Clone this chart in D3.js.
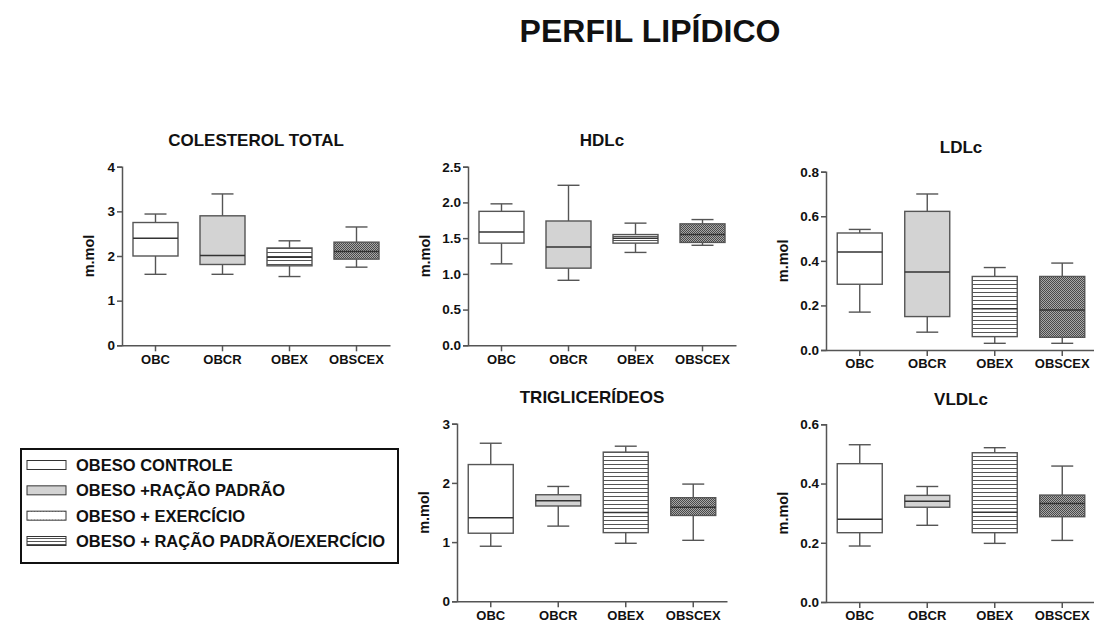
<!DOCTYPE html>
<html>
<head>
<meta charset="utf-8">
<script src="https://cdn.jsdelivr.net/npm/d3@7"></script>
<style>
  body { margin: 0; background: #fff; }
  svg { display: block; font-family: "Liberation Sans", Arial, sans-serif; }
</style>
</head>
<body>
<svg id="chart" width="1094" height="624"></svg>
<script>
// groups on the x axis
const categories = ['OBC', 'OBCR', 'OBEX', 'OBSCEX'];

// box values per group: [min, q1, median, q3, max]
const colesterolTotal = [
  [1.59, 2.00, 2.40, 2.75, 2.94],
  [1.59, 1.81, 2.01, 2.90, 3.39],
  [1.54, 1.78, 1.97, 2.18, 2.34],
  [1.75, 1.93, 2.10, 2.31, 2.65]
];
const hdlc = [
  [1.14, 1.43, 1.586, 1.875, 1.98],
  [0.91, 1.08, 1.376, 1.74, 2.24],
  [1.30, 1.43, 1.50, 1.55, 1.71],
  [1.40, 1.44, 1.55, 1.70, 1.76]
];
const ldlc = [
  [0.17, 0.295, 0.44, 0.525, 0.541],
  [0.08, 0.15, 0.35, 0.622, 0.70],
  [0.03, 0.06, 0.185, 0.33, 0.37],
  [0.03, 0.057, 0.18, 0.33, 0.39]
];
const triglicerideos = [
  [0.93, 1.15, 1.41, 2.31, 2.67],
  [1.27, 1.61, 1.70, 1.80, 1.94],
  [0.98, 1.16, 1.50, 2.52, 2.62],
  [1.03, 1.45, 1.59, 1.75, 1.98]
];
const vldlc = [
  [0.189, 0.234, 0.279, 0.467, 0.531],
  [0.259, 0.32, 0.34, 0.36, 0.39],
  [0.198, 0.234, 0.303, 0.504, 0.521],
  [0.208, 0.288, 0.333, 0.361, 0.459]
];

// y tick values
const ticksColesterol = [0, 1, 2, 3, 4];
const ticksHdl = [0, 0.5, 1.0, 1.5, 2.0, 2.5];
const ticksLdl = [0, 0.2, 0.4, 0.6, 0.8];
const ticksTrig = [0, 1, 2, 3];
const ticksVldl = [0, 0.2, 0.4, 0.6];

const legendLabels = [
  'OBESO CONTROLE',
  'OBESO +RAÇÃO PADRÃO',
  'OBESO + EXERCÍCIO',
  'OBESO + RAÇÃO PADRÃO/EXERCÍCIO'
];

const mainTitle = 'PERFIL LIPÍDICO';
const yLabel = 'm.mol';

const svg = d3.select('#chart');
const stroke = '#555';

// fill patterns
const defs = svg.append('defs');

const hatch = defs.append('pattern')
  .attr('id', 'hatch').attr('patternUnits', 'userSpaceOnUse')
  .attr('width', 4).attr('height', 4);
hatch.append('rect').attr('width', 4).attr('height', 4).attr('fill', '#fff');
hatch.append('path').attr('d', 'M0,0.5H4').attr('stroke', '#555').attr('stroke-width', 1);

const checker = defs.append('pattern')
  .attr('id', 'checker').attr('patternUnits', 'userSpaceOnUse')
  .attr('width', 2).attr('height', 2);
checker.append('rect').attr('width', 2).attr('height', 2).attr('fill', '#a8a8a8');
checker.append('rect').attr('width', 1).attr('height', 1).attr('fill', '#4a4a4a');
checker.append('rect').attr('x', 1).attr('y', 1).attr('width', 1).attr('height', 1).attr('fill', '#4a4a4a');

const dots = defs.append('pattern')
  .attr('id', 'dots').attr('patternUnits', 'userSpaceOnUse')
  .attr('width', 3).attr('height', 9);
dots.append('rect').attr('width', 3).attr('height', 9).attr('fill', '#fff');
dots.append('rect').attr('x', 1).attr('y', 4).attr('width', 1).attr('height', 1).attr('fill', '#777');

const lines3 = defs.append('pattern')
  .attr('id', 'lines3').attr('patternUnits', 'userSpaceOnUse')
  .attr('width', 4).attr('height', 3);
lines3.append('rect').attr('width', 4).attr('height', 3).attr('fill', '#fff');
lines3.append('path').attr('d', 'M0,0.5H4').attr('stroke', '#555').attr('stroke-width', 1);

const boxFills = ['#fff', '#d3d3d3', 'url(#hatch)', 'url(#checker)'];
const legendFills = ['#fff', '#d3d3d3', 'url(#dots)', 'url(#lines3)'];

// title
svg.append('text')
  .attr('x', 650).attr('y', 42)
  .attr('text-anchor', 'middle')
  .attr('font-size', 32).attr('font-weight', 'bold')
  .attr('fill', '#111')
  .text(mainTitle);

const panels = [
  { title: 'COLESTEROL TOTAL', data: colesterolTotal, ticks: ticksColesterol, fmt: d3.format('d'),
    left: 122, top: 166.7, bottom: 345.3, width: 268, titleY: 146 },
  { title: 'HDLc', data: hdlc, ticks: ticksHdl, fmt: d3.format('.1f'),
    left: 468, top: 166.7, bottom: 345.3, width: 268, titleY: 146 },
  { title: 'LDLc', data: ldlc, ticks: ticksLdl, fmt: d3.format('.1f'),
    left: 826, top: 171.7, bottom: 350, width: 270, titleY: 153 },
  { title: 'TRIGLICERÍDEOS', data: triglicerideos, ticks: ticksTrig, fmt: d3.format('d'),
    left: 457, top: 423.7, bottom: 601.3, width: 270, titleY: 403 },
  { title: 'VLDLc', data: vldlc, ticks: ticksVldl, fmt: d3.format('.1f'),
    left: 826, top: 424.3, bottom: 602, width: 270, titleY: 405 }
];

const boxWidth = 45;
const capWidth = 22;

panels.forEach(p => {
  const x = d3.scaleBand().domain(categories).range([p.left, p.left + p.width]);
  const y = d3.scaleLinear()
    .domain(d3.extent(p.ticks))
    .range([p.bottom, p.top]);

  const g = svg.append('g');

  // y axis
  const yAxis = g.append('g')
    .attr('transform', `translate(${p.left},0)`)
    .call(d3.axisLeft(y).tickValues(p.ticks).tickFormat(p.fmt).tickSize(5).tickPadding(2));
  yAxis.select('.domain').attr('stroke', stroke).attr('stroke-width', 1.5);
  yAxis.selectAll('.tick line').attr('stroke', stroke).attr('stroke-width', 1.5);
  yAxis.selectAll('.tick text')
    .attr('font-size', 13.5).attr('font-weight', 'bold').attr('fill', '#111')
    .attr('font-family', '"Liberation Sans", Arial, sans-serif');

  // x axis
  const xAxis = g.append('g')
    .attr('transform', `translate(0,${p.bottom})`)
    .call(d3.axisBottom(x).tickSize(6).tickSizeOuter(0).tickPadding(3));
  xAxis.select('.domain').attr('stroke', stroke).attr('stroke-width', 1.5);
  xAxis.selectAll('.tick line').attr('stroke', stroke).attr('stroke-width', 1.5);
  xAxis.selectAll('.tick text')
    .attr('font-size', 13).attr('font-weight', 'bold').attr('fill', '#111')
    .attr('font-family', '"Liberation Sans", Arial, sans-serif');

  // panel title
  g.append('text')
    .attr('x', p.left + p.width / 2).attr('y', p.titleY)
    .attr('text-anchor', 'middle')
    .attr('font-size', 17).attr('font-weight', 'bold').attr('fill', '#111')
    .text(p.title);

  // y label
  const labelOff = p.fmt(p.ticks[1]).length > 1 ? 38 : 28;
  g.append('text')
    .attr('transform', `translate(${p.left - labelOff},${(p.top + p.bottom) / 2}) rotate(-90)`)
    .attr('text-anchor', 'middle')
    .attr('font-size', 14.5).attr('font-weight', 'bold').attr('fill', '#111')
    .text(yLabel);

  // boxes
  const boxes = g.selectAll('.box').data(p.data).join('g').attr('class', 'box');
  boxes.each(function (d, i) {
    const cx = x(categories[i]) + x.bandwidth() / 2;
    const b = d3.select(this);
    const [mn, q1, md, q3, mx] = d;
    b.append('line').attr('x1', cx).attr('x2', cx).attr('y1', y(mx)).attr('y2', y(q3))
      .attr('stroke', stroke).attr('stroke-width', 1.4);
    b.append('line').attr('x1', cx).attr('x2', cx).attr('y1', y(q1)).attr('y2', y(mn))
      .attr('stroke', stroke).attr('stroke-width', 1.4);
    b.append('line').attr('x1', cx - capWidth / 2).attr('x2', cx + capWidth / 2).attr('y1', y(mx)).attr('y2', y(mx))
      .attr('stroke', stroke).attr('stroke-width', 1.4);
    b.append('line').attr('x1', cx - capWidth / 2).attr('x2', cx + capWidth / 2).attr('y1', y(mn)).attr('y2', y(mn))
      .attr('stroke', stroke).attr('stroke-width', 1.4);
    b.append('rect')
      .attr('x', cx - boxWidth / 2).attr('width', boxWidth)
      .attr('y', y(q3)).attr('height', y(q1) - y(q3))
      .attr('fill', boxFills[i]).attr('stroke', stroke).attr('stroke-width', 1.4);
    b.append('line').attr('x1', cx - boxWidth / 2).attr('x2', cx + boxWidth / 2).attr('y1', y(md)).attr('y2', y(md))
      .attr('stroke', '#333').attr('stroke-width', 1.5);
  });
});

// legend
const legend = svg.append('g').attr('transform', 'translate(21,449)');
legend.append('rect')
  .attr('width', 377).attr('height', 114)
  .attr('fill', '#fff').attr('stroke', '#111').attr('stroke-width', 2);

const rowY = d3.scalePoint().domain(legendLabels).range([16, 92]);
const items = legend.selectAll('.item').data(legendLabels).join('g')
  .attr('transform', d => `translate(0,${rowY(d)})`);
items.append('rect')
  .attr('x', 6).attr('y', -4.5).attr('width', 39).attr('height', 9)
  .attr('fill', (d, i) => legendFills[i]).attr('stroke', '#333').attr('stroke-width', 1);
items.append('text')
  .attr('x', 55).attr('y', 6)
  .attr('font-size', 16.5).attr('font-weight', 'bold').attr('fill', '#111')
  .text(d => d);
</script>
</body>
</html>
